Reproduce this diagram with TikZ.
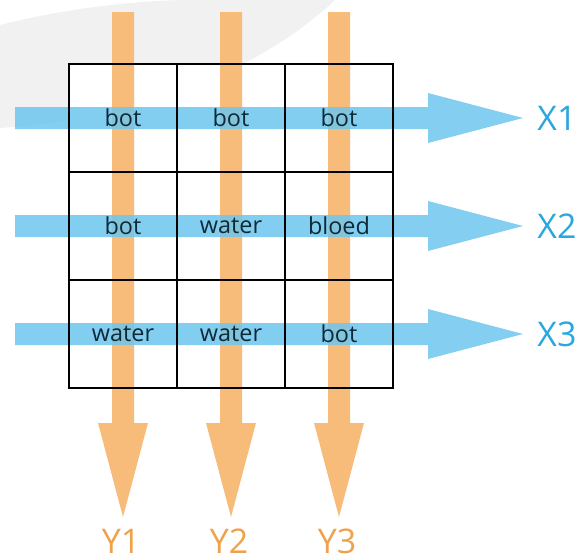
\documentclass[tikz,border=0pt]{standalone}
\usepackage{fontspec}
\setmainfont{Open Sans}
\definecolor{sky}{HTML}{6DC6EE}
\definecolor{peach}{HTML}{F8BC7A}
\definecolor{skytext}{HTML}{2BA6DF}
\definecolor{peachtext}{HTML}{F0A24A}
\definecolor{ink}{HTML}{0E2A38}
\definecolor{haze}{HTML}{F1F1F1}
\tikzset{cell/.style={draw=black, line width=1.1pt, minimum size=3.24cm, inner sep=0pt,
    text=ink, font=\fontsize{20}{24}\selectfont}}
\tikzset{xlab/.style={text=skytext, inner sep=0pt, font=\fontsize{29}{32}\selectfont}}
\tikzset{ylab/.style={text=peachtext, inner sep=0pt, font=\fontsize{29}{32}\selectfont}}
\tikzset{skyarrow/.style={fill=sky, opacity=.85}}
\tikzset{peacharrow/.style={fill=peach}}

\begin{document}
\begin{tikzpicture}[x=0.03cm,y=-0.03cm]
    \useasboundingbox (0,0) rectangle (584,560);
    % background swoosh
    \fill[haze] (0,25) .. controls (60,10) and (120,2) .. (180,0) -- (335,0)
      .. controls (250,80) and (120,120) .. (0,128) -- cycle;
    \fill[white] (69,64) rectangle (393,387);
    % vertical arrows
    \foreach \cx [count=\i] in {123,231,339} {
      \coordinate (ys\i) at (\cx,12);
      \fill[peacharrow] (ys\i) ++(-11,0) -- ++(0,411) -- ++(-14,0) -- ++(25,94)
        -- ++(25,-94) -- ++(-14,0) -- ++(0,-411) -- cycle;
    }
    % horizontal arrows
    \foreach \cy [count=\i] in {118,226,334} {
      \coordinate (xs\i) at (15,\cy);
      \fill[skyarrow] (xs\i) ++(0,-11) -- ++(413,0) -- ++(0,-14) -- ++(95,25)
        -- ++(-95,25) -- ++(0,-14) -- ++(-413,0) -- cycle;
    }
    % grid
    \node[cell] (c11) at (123,118) {bot};
    \node[cell] (c12) at (231,118) {bot};
    \node[cell] (c13) at (339,118) {bot};
    \node[cell] (c21) at (123,226) {bot};
    \node[cell] (c22) at (231,226) {water};
    \node[cell] (c23) at (339,226) {bloed};
    \node[cell] (c31) at (123,334) {water};
    \node[cell] (c32) at (231,334) {water};
    \node[cell] (c33) at (339,334) {bot};
    % labels
    \node[xlab] (x1) at (557,118) {X1};
    \node[xlab] (x2) at (557,226) {X2};
    \node[xlab] (x3) at (557,334) {X3};
    \node[ylab] (y1) at (121,541) {Y1};
    \node[ylab] (y2) at (229,541) {Y2};
    \node[ylab] (y3) at (337,541) {Y3};
\end{tikzpicture}
\end{document}
